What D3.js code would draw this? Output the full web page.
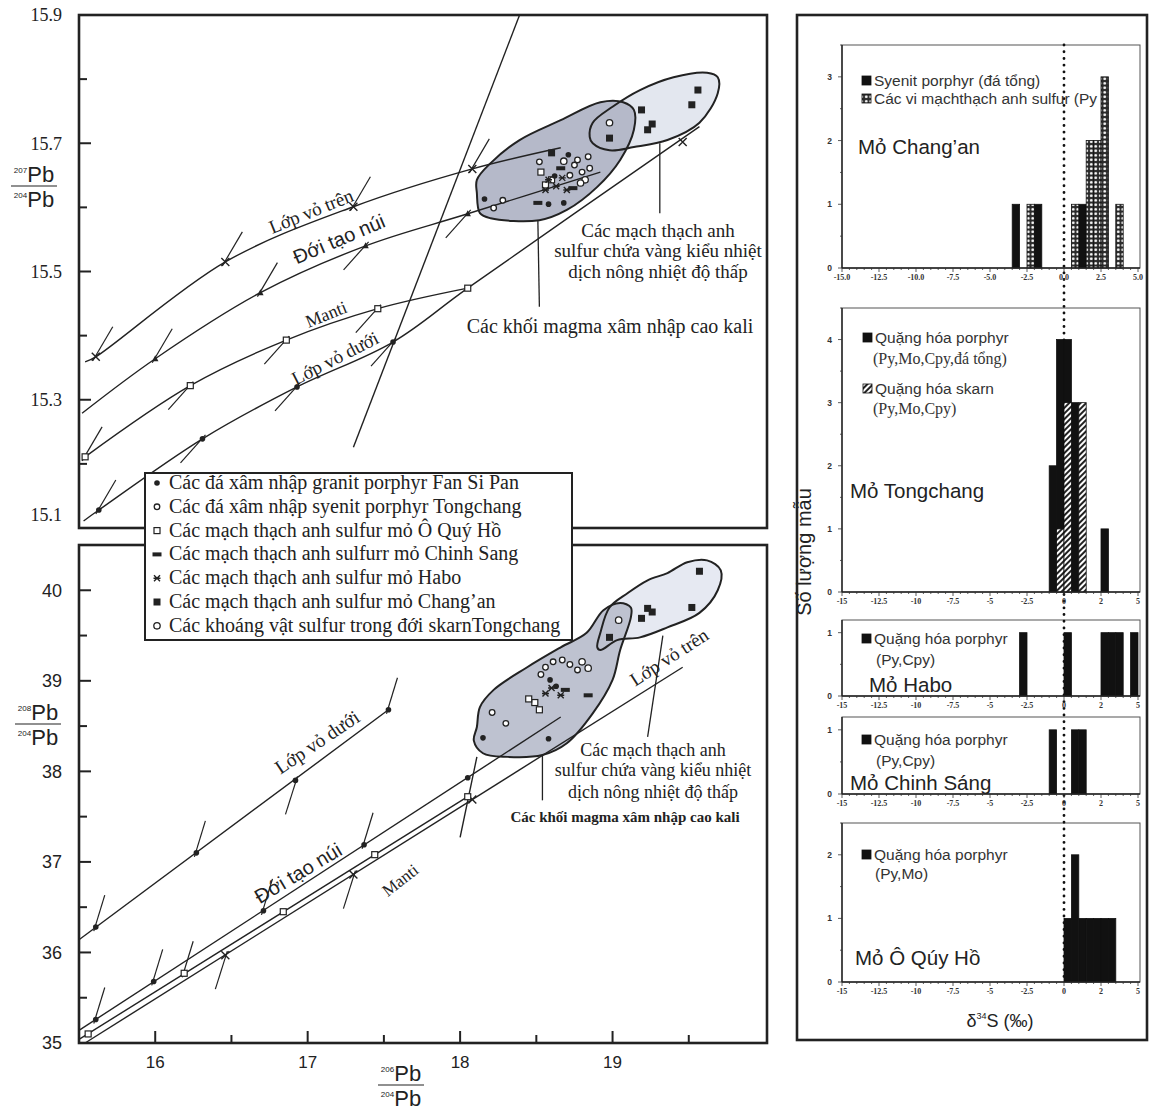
<!DOCTYPE html>
<html>
<head>
<meta charset="utf-8">
<script src="https://cdnjs.cloudflare.com/ajax/libs/d3/7.8.5/d3.min.js"></script>
<style>
body { margin: 0; background: #fff; }
</style>
</head>
<body>
<svg id="fig" width="1152" height="1110"></svg>
<script>
/* Pb isotope diagrams (left) and d34S histograms (right) */

var SERIF = "'Liberation Serif', 'DejaVu Serif', serif";
var SANS = "'Liberation Sans', Arial, sans-serif";
var INK = "#222";

// ---------- Pb diagrams: axes ----------
var x_major = [16, 17, 18, 19];
var x_minor = [16.5, 17.5, 18.5, 19.5];
var top_y_major = [15.1, 15.3, 15.5, 15.7, 15.9];
var top_y_minor = [15.2, 15.4, 15.6, 15.8];
var bot_y_major = [35, 36, 37, 38, 39, 40];
var bot_y_minor = [35.5, 36.5, 37.5, 38.5, 39.5];

// ---------- 207Pb/204Pb vs 206Pb/204Pb ----------
var upper_crust_207 = [[15.54, 15.359], [15.61, 15.367], [16.46, 15.515], [17.30, 15.601], [18.08, 15.660], [18.66, 15.693]];
var orogene_207 = [[15.52, 15.279], [16.0, 15.364], [16.69, 15.467], [17.38, 15.540], [18.05, 15.590], [18.92, 15.655]];
var mantle_207 = [[15.54, 15.211], [16.23, 15.322], [16.86, 15.393], [17.46, 15.442], [18.05, 15.474]];
var lower_crust_207 = [[15.53, 15.111], [15.63, 15.128], [16.31, 15.239], [16.93, 15.320], [17.56, 15.390], [18.05, 15.474], [19.57, 15.726]];
var geochron_207 = [[17.30, 15.226], [18.39, 15.90]];
// nodes: [x, y, tick direction: 1 up-right, -1 down-left, 0 none]
var upper_nodes_207 = [[15.61, 15.367, 1], [16.46, 15.515, 1], [17.30, 15.601, 1], [18.08, 15.660, 1], [19.46, 15.702, 0]];
var orogene_nodes_207 = [[16.0, 15.364, 1], [16.69, 15.467, 1], [17.38, 15.540, -1], [18.05, 15.590, -1]];
var mantle_nodes_207 = [[15.54, 15.211, 1], [16.23, 15.322, -1], [16.86, 15.393, -1], [17.46, 15.442, -1], [18.05, 15.474, 0]];
var lower_nodes_207 = [[15.63, 15.128, 1], [16.31, 15.239, -1], [16.93, 15.320, -1], [17.56, 15.390, -1]];

var dark_field_207 = [[18.11, 15.622], [18.13, 15.591], [18.20, 15.583], [18.52, 15.580], [18.70, 15.596], [18.90, 15.632], [19.05, 15.674], [19.14, 15.721], [19.14, 15.752], [19.07, 15.764], [18.92, 15.764], [18.66, 15.736], [18.39, 15.705], [18.20, 15.669], [18.11, 15.643]];
var light_field_207 = [[18.85, 15.710], [18.87, 15.700], [18.98, 15.689], [19.14, 15.694], [19.36, 15.705], [19.57, 15.732], [19.69, 15.778], [19.69, 15.803], [19.62, 15.810], [19.40, 15.803], [19.18, 15.783], [19.00, 15.757], [18.87, 15.732]];
var leaders_207 = [[[19.31, 15.700], [19.31, 15.591]], [[18.51, 15.580], [18.52, 15.445]]];

var fansipan_207 = [[18.16, 15.613], [18.58, 15.605], [18.68, 15.607], [18.71, 15.682], [18.62, 15.649]];
var tongchang_207 = [[18.22, 15.599], [18.28, 15.611], [18.52, 15.671], [18.84, 15.679], [18.75, 15.666], [18.80, 15.655], [18.72, 15.650], [18.85, 15.661], [18.77, 15.674]];
var oquyho_207 = [[18.56, 15.635], [18.60, 15.643], [18.53, 15.655]];
var chinhsang_207 = [[18.51, 15.607], [18.74, 15.630], [18.66, 15.661]];
var habo_207 = [[18.58, 15.643], [18.63, 15.633], [18.67, 15.646], [18.56, 15.627], [18.70, 15.627]];
var changan_207 = [[18.60, 15.685], [18.98, 15.708], [19.19, 15.752], [19.23, 15.721], [19.26, 15.730], [19.52, 15.760], [19.56, 15.783]];
var skarn_207 = [[18.98, 15.732], [18.82, 15.643], [18.79, 15.638], [18.68, 15.672]];

// ---------- 208Pb/204Pb vs 206Pb/204Pb ----------
var upper_crust_208 = [[15.54, 35.0], [19.46, 39.15]];
var orogene_208 = [[15.5, 35.14], [18.66, 38.60]];
var mantle_208 = [[15.5, 35.04], [18.05, 37.72]];
var lower_crust_208 = [[15.5, 36.14], [17.53, 38.68]];
var cross_line_208 = [[18.0, 37.27], [18.11, 38.16]];
var upper_nodes_208 = [[16.46, 35.97, -1], [17.30, 36.86, -1], [18.08, 37.69, 0]];
var orogene_nodes_208 = [[15.61, 35.26, 1], [15.99, 35.68, 1], [16.71, 36.46, 1], [17.37, 37.19, 1], [18.05, 37.93, 0]];
var mantle_nodes_208 = [[15.56, 35.10, 0], [16.19, 35.77, 1], [16.84, 36.45, 0], [17.44, 37.08, 0], [18.05, 37.72, 0]];
var lower_nodes_208 = [[15.61, 36.28, 1], [16.27, 37.10, 1], [16.92, 37.90, -1], [17.53, 38.68, 1]];

var dark_field_208 = [[18.11, 38.49], [18.09, 38.34], [18.15, 38.20], [18.31, 38.16], [18.54, 38.18], [18.70, 38.31], [18.87, 38.64], [19.00, 39.01], [19.05, 39.34], [19.12, 39.70], [19.12, 39.81], [19.05, 39.86], [18.94, 39.78], [18.83, 39.53], [18.66, 39.37], [18.44, 39.15], [18.22, 38.90], [18.13, 38.71]];
var light_field_208 = [[18.92, 39.53], [18.90, 39.37], [18.92, 39.34], [19.03, 39.45], [19.18, 39.48], [19.36, 39.59], [19.57, 39.75], [19.69, 40.00], [19.71, 40.22], [19.62, 40.33], [19.49, 40.31], [19.36, 40.19], [19.23, 40.11], [19.10, 39.97], [18.98, 39.81]];
var leaders_208 = [[[19.33, 39.50], [19.23, 38.38]], [[18.54, 38.18], [18.54, 37.68]]];

var fansipan_208 = [[18.15, 38.37], [18.58, 38.36], [18.59, 39.01], [18.63, 38.94]];
var tongchang_208 = [[18.21, 38.65], [18.30, 38.53], [18.56, 39.15], [18.61, 39.21], [18.67, 39.23], [18.72, 39.18], [18.77, 39.12], [18.53, 39.07]];
var oquyho_208 = [[18.49, 38.76], [18.52, 38.68], [18.45, 38.80]];
var chinhsang_208 = [[18.84, 38.84], [18.69, 38.90]];
var habo_208 = [[18.56, 38.86], [18.66, 38.84], [18.60, 38.92]];
var changan_208 = [[18.98, 39.48], [19.19, 39.69], [19.23, 39.80], [19.26, 39.76], [19.52, 39.81], [19.57, 40.21]];
var skarn_208 = [[19.04, 39.67], [18.80, 39.21], [18.84, 39.14]];

var legend_labels = [
    "Các đá xâm nhập granit porphyr Fan Si Pan",
    "Các đá xâm nhập syenit porphyr Tongchang",
    "Các mạch thạch anh sulfur mỏ Ô Quý Hồ",
    "Các mạch thạch anh sulfurr mỏ Chinh Sang",
    "Các mạch thạch anh sulfur mỏ Habo",
    "Các mạch thạch anh sulfur mỏ Chang’an",
    "Các khoáng vật sulfur trong đới skarnTongchang"
];
var legend_symbols = ["dot", "ring", "square", "dash", "star", "fsquare", "ring2"];

// ---------- d34S histograms (bin start, count), bins 0.5 wide ----------
var hist_ticks = [-15, -12.5, -10, -7.5, -5, -2.5, 0, 2.5, 5];
var hist_labels_a = ["-15.0", "-12.5", "-10.0", "-7.5", "-5.0", "-2.5", "0.0", "2.5", "5.0"];
var hist_labels_b = ["-15", "-12.5", "-10", "-7.5", "-5", "-2.5", "0", "2", "5"];
var changan_rock = [[-3.5, 1], [-2, 1], [1, 1]];
var changan_vein = [[-2.5, 1], [0.5, 1], [1.5, 2], [2, 2], [2.5, 3], [3.5, 1]];
var tongchang_porphyry = [[-1, 2], [-0.5, 4], [0, 4], [0.5, 3], [2.5, 1]];
var tongchang_skarn = [[-0.5, 1], [0, 3], [1, 3]];
var habo_porphyry = [[-3, 1], [0, 1], [2.5, 1], [3, 1], [3.5, 1], [4.5, 1]];
var chinhsang_porphyry = [[-1, 1], [0.5, 1], [1, 1]];
var oquyho_porphyry = [[0, 1], [0.5, 2], [1, 1], [1.5, 1], [2, 1], [2.5, 1], [3, 1]];

var svg = d3.select("#fig");

var x = d3.scaleLinear().domain([15.5, 20]).range([79, 765]);
var y_top = d3.scaleLinear().domain([15.1, 15.9]).range([528, 15]);
var y_bot = d3.scaleLinear().domain([35, 40.5]).range([1043, 545]);

/**
 * Draw a small point symbol centred on px, py.
 */
function draw_symbol(g, type, px, py) {
    if (type === "dot") {
        g.append("circle").attr("cx", px).attr("cy", py).attr("r", 2.8).attr("fill", INK);
    } else if (type === "ring" || type === "ring2") {
        g.append("circle").attr("cx", px).attr("cy", py).attr("r", type === "ring" ? 2.8 : 3.2)
            .attr("fill", "#fff").attr("stroke", INK).attr("stroke-width", 1.3);
    } else if (type === "square") {
        g.append("rect").attr("x", px - 3).attr("y", py - 3).attr("width", 6).attr("height", 6)
            .attr("fill", "#fff").attr("stroke", INK).attr("stroke-width", 1.2);
    } else if (type === "fsquare") {
        g.append("rect").attr("x", px - 3.5).attr("y", py - 3.5).attr("width", 7).attr("height", 7).attr("fill", INK);
    } else if (type === "dash") {
        g.append("rect").attr("x", px - 4.5).attr("y", py - 2).attr("width", 9).attr("height", 4).attr("fill", INK);
    } else if (type === "star") {
        g.append("path").attr("d", "M" + (px - 3) + "," + (py - 3) + "L" + (px + 3) + "," + (py + 3) +
            "M" + (px - 3) + "," + (py + 3) + "L" + (px + 3) + "," + (py - 3) +
            "M" + (px - 3.5) + "," + py + "L" + (px + 3.5) + "," + py)
            .attr("stroke", INK).attr("stroke-width", 1.4);
    } else if (type === "cross") {
        g.append("path").attr("d", "M" + (px - 4) + "," + (py - 4) + "L" + (px + 4) + "," + (py + 4) +
            "M" + (px - 4) + "," + (py + 4) + "L" + (px + 4) + "," + (py - 4))
            .attr("stroke", INK).attr("stroke-width", 1.4);
    } else if (type === "tri") {
        g.append("path").attr("d", "M" + px + "," + (py - 3.5) + "L" + (px + 3.2) + "," + (py + 2.5) +
            "L" + (px - 3.2) + "," + (py + 2.5) + "Z").attr("fill", INK);
    }
}

/**
 * Rotated text label, centred on cx, cy.
 */
function draw_label(txt, cx, cy, angle, font, size, weight) {
    svg.append("text")
        .attr("transform", "translate(" + cx + "," + cy + ") rotate(" + angle + ")")
        .attr("text-anchor", "middle").attr("dy", "0.35em")
        .attr("font-family", font).attr("font-size", size).attr("font-weight", weight || "normal")
        .attr("fill", INK)
        .text(txt);
}

/**
 * Draw one Pb isotope diagram into its own group.
 */
function draw_pb(y, s) {
    var g = svg.append("g");
    var blob = d3.line().x(function(d) { return x(d[0]); }).y(function(d) { return y(d[1]); })
        .curve(d3.curveCatmullRomClosed.alpha(0.5));
    var smooth = d3.line().x(function(d) { return x(d[0]); }).y(function(d) { return y(d[1]); })
        .curve(d3.curveCatmullRom.alpha(0.5));

    g.append("path").datum(s.light).attr("d", blob).attr("fill", s.light_fill);
    g.append("path").datum(s.dark).attr("d", blob).attr("fill", s.dark_fill);
    [s.light, s.dark].forEach(function(f) {
        g.append("path").datum(f).attr("d", blob).attr("fill", "none")
            .attr("stroke", INK).attr("stroke-width", 2);
    });

    s.lines.forEach(function(l) {
        g.append("path").datum(l).attr("d", smooth).attr("fill", "none")
            .attr("stroke", INK).attr("stroke-width", 1.4);
    });
    s.leaders.forEach(function(l) {
        g.append("path").datum(l).attr("d", smooth).attr("fill", "none")
            .attr("stroke", INK).attr("stroke-width", 1.3);
    });

    s.nodes.forEach(function(n) {
        n.data.forEach(function(d) {
            var px = x(d[0]), py = y(d[1]);
            if (d[2] === 1) {
                g.append("line").attr("x1", px - s.back[0]).attr("y1", py - s.back[1])
                    .attr("x2", px + s.up[0]).attr("y2", py + s.up[1])
                    .attr("stroke", INK).attr("stroke-width", 1.2);
            } else if (d[2] === -1) {
                g.append("line").attr("x1", px + s.back[0]).attr("y1", py + s.back[1])
                    .attr("x2", px - s.down[0]).attr("y2", py + s.down[1])
                    .attr("stroke", INK).attr("stroke-width", 1.2);
            }
            draw_symbol(g, n.type, px, py);
        });
    });

    s.points.forEach(function(p) {
        p.data.forEach(function(d) { draw_symbol(g, p.type, x(d[0]), y(d[1])); });
    });
    return g;
}

// ---------- frames and axes of the Pb diagrams ----------
function draw_frame(y0, y1) {
    svg.append("rect").attr("x", x(15.5)).attr("y", y0).attr("width", 767 - x(15.5)).attr("height", y1 - y0)
        .attr("fill", "#fff").attr("stroke", INK).attr("stroke-width", 2.6);
}
draw_frame(y_top(15.9), y_top(15.1));
draw_frame(y_bot(40.5), y_bot(35));

var top_g = draw_pb(y_top, {
    light: light_field_207, dark: dark_field_207, light_fill: "#e3e7ef", dark_fill: "#b5b9c9",
    lines: [upper_crust_207, orogene_207, mantle_207, lower_crust_207, geochron_207],
    leaders: leaders_207,
    up: [17, -30], down: [22, 24], back: [3, -4],
    nodes: [
        {type: "cross", data: upper_nodes_207},
        {type: "tri", data: orogene_nodes_207},
        {type: "square", data: mantle_nodes_207},
        {type: "dot", data: lower_nodes_207}
    ],
    points: [
        {type: "ring", data: tongchang_207}, {type: "square", data: oquyho_207},
        {type: "dash", data: chinhsang_207}, {type: "star", data: habo_207},
        {type: "dot", data: fansipan_207}, {type: "fsquare", data: changan_207},
        {type: "ring2", data: skarn_207}
    ]
});

var bot_g = draw_pb(y_bot, {
    light: light_field_208, dark: dark_field_208, light_fill: "#e6e9f2", dark_fill: "#bec2d0",
    lines: [upper_crust_208, orogene_208, mantle_208, lower_crust_208, cross_line_208],
    leaders: leaders_208,
    up: [9, -32], down: [10, 34], back: [2, -4],
    nodes: [
        {type: "cross", data: upper_nodes_208},
        {type: "dot", data: orogene_nodes_208},
        {type: "square", data: mantle_nodes_208},
        {type: "dot", data: lower_nodes_208}
    ],
    points: [
        {type: "ring", data: tongchang_208}, {type: "square", data: oquyho_208},
        {type: "dash", data: chinhsang_208}, {type: "star", data: habo_208},
        {type: "dot", data: fansipan_208}, {type: "fsquare", data: changan_208},
        {type: "ring2", data: skarn_208}
    ]
});

// y ticks (inward) and labels
function draw_y_ticks(y, major, minor, font, fmt, special) {
    major.forEach(function(v) {
        svg.append("line").attr("x1", x(15.5)).attr("x2", x(15.5) + 12).attr("y1", y(v)).attr("y2", y(v))
            .attr("stroke", INK).attr("stroke-width", 2);
        svg.append("text").attr("x", 62).attr("y", y(v) + (special(v) ? -13 : 0)).attr("dy", "0.35em")
            .attr("text-anchor", "end").attr("font-family", font).attr("font-size", 18).attr("fill", INK)
            .text(fmt(v));
    });
    minor.forEach(function(v) {
        svg.append("line").attr("x1", x(15.5)).attr("x2", x(15.5) + 8).attr("y1", y(v)).attr("y2", y(v))
            .attr("stroke", INK).attr("stroke-width", 2);
    });
}
draw_y_ticks(y_top, top_y_major, top_y_minor, SERIF, d3.format(".1f"), function(v) { return v === 15.1; });
draw_y_ticks(y_bot, bot_y_major, bot_y_minor, SANS, d3.format("d"), function(v) { return false; });

x_major.forEach(function(v) {
    svg.append("line").attr("x1", x(v)).attr("x2", x(v)).attr("y1", y_bot(35)).attr("y2", y_bot(35) - 12)
        .attr("stroke", INK).attr("stroke-width", 2);
    svg.append("text").attr("x", x(v)).attr("y", 1068).attr("text-anchor", "middle")
        .attr("font-family", SANS).attr("font-size", 17).attr("fill", INK).text(v);
});
x_minor.forEach(function(v) {
    svg.append("line").attr("x1", x(v)).attr("x2", x(v)).attr("y1", y_bot(35)).attr("y2", y_bot(35) - 8)
        .attr("stroke", INK).attr("stroke-width", 2);
});

// ratio labels like 207Pb / 204Pb
function draw_ratio(cx, y_num, num) {
    var g = svg.append("g").attr("font-family", SANS).attr("fill", INK);
    [[num, y_num], ["204", y_num + 25]].forEach(function(r) {
        var t = g.append("text").attr("x", cx).attr("y", r[1]).attr("text-anchor", "middle");
        t.append("tspan").attr("font-size", 8).attr("dy", -9).text(r[0]);
        t.append("tspan").attr("font-size", 22).attr("dy", 9).text("Pb");
    });
    g.append("line").attr("x1", cx - 23).attr("x2", cx + 23).attr("y1", y_num + 4).attr("y2", y_num + 4)
        .attr("stroke", INK).attr("stroke-width", 1.2);
}
draw_ratio(34, 182, "207");
draw_ratio(38, 720, "208");
draw_ratio(401, 1081, "206");

// curve labels
draw_label("Lớp vỏ trên", 311, 211, -22, SERIF, 19);
draw_label("Đới tạo núi", 339, 239, -23, SANS, 20);
draw_label("Manti", 326, 314, -22, SERIF, 18);
draw_label("Lớp vỏ dưới", 335, 358, -27, SERIF, 19);
draw_label("Lớp vỏ dưới", 317, 742, -34, SERIF, 19.5);
draw_label("Đới tạo núi", 298, 873, -31, SANS, 20);
draw_label("Manti", 400, 880, -38, SERIF, 17);
draw_label("Lớp vỏ trên", 669, 657, -33, SERIF, 19);

// field annotations
[["Các mạch thạch anh", 230], ["sulfur chứa vàng kiểu nhiệt", 250], ["dịch nông nhiệt độ thấp", 271]].forEach(function(r) {
    draw_label(r[0], 658, r[1], 0, SERIF, 19);
});
draw_label("Các khối magma xâm nhập cao kali", 610, 326, 0, SERIF, 20);
[["Các mạch thạch anh", 750], ["sulfur chứa vàng kiểu nhiệt", 770], ["dịch nông nhiệt độ thấp", 792]].forEach(function(r) {
    draw_label(r[0], 653, r[1], 0, SERIF, 18);
});
draw_label("Các khối magma xâm nhập cao kali", 625, 817, 0, SERIF, 15, "bold");

// legend
var leg = svg.append("g");
leg.append("rect").attr("x", 145).attr("y", 473).attr("width", 427).attr("height", 167)
    .attr("fill", "#fff").attr("stroke", INK).attr("stroke-width", 2);
legend_labels.forEach(function(lab, i) {
    var yy = 488 + i * 23.8;
    draw_symbol(leg, legend_symbols[i], 157, yy - 5);
    leg.append("text").attr("x", 169).attr("y", yy + 1).attr("font-family", SERIF).attr("font-size", 20)
        .attr("fill", INK).text(lab);
});

// ---------- right panel: histograms ----------
var hx = d3.scaleLinear().domain([-15, 5]).range([842, 1138]);

var defs = svg.append("defs");
var dots = defs.append("pattern").attr("id", "dots").attr("patternUnits", "userSpaceOnUse")
    .attr("width", 4.5).attr("height", 4.5);
dots.append("rect").attr("width", 4.5).attr("height", 4.5).attr("fill", "#2a2a2a");
dots.append("circle").attr("cx", 2.25).attr("cy", 2.25).attr("r", 1.4).attr("fill", "#fff");
var hatch = defs.append("pattern").attr("id", "hatch").attr("patternUnits", "userSpaceOnUse")
    .attr("width", 4).attr("height", 4).attr("patternTransform", "rotate(45)");
hatch.append("rect").attr("width", 4).attr("height", 4).attr("fill", "#fff");
hatch.append("rect").attr("width", 2).attr("height", 4).attr("fill", "#222");

svg.append("rect").attr("x", 797).attr("y", 15).attr("width", 350).attr("height", 1025)
    .attr("fill", "#fff").attr("stroke", INK).attr("stroke-width", 2.6);

var panels = [
    {top: 45, bottom: 268, max: 3.5, ticks: [0, 1, 2, 3], labels: hist_labels_a,
     series: [{data: changan_rock, fill: "#111"}, {data: changan_vein, fill: "url(#dots)"}],
     legend: [["#111", "Syenit porphyr (đá tổng)", SANS, 862, 86], ["url(#dots)", "Các vi mạchthạch anh sulfur (Py", SANS, 862, 104]],
     title: ["Mỏ Chang’an", 858, 154]},
    {top: 308, bottom: 592, max: 4.5, ticks: [0, 1, 2, 3, 4], labels: hist_labels_b,
     series: [{data: tongchang_porphyry, fill: "#111"}, {data: tongchang_skarn, fill: "url(#hatch)"}],
     legend: [["#111", "Quặng hóa porphyr", SANS, 863, 343], [null, "(Py,Mo,Cpy,đá tổng)", SERIF, 873, 364],
              ["url(#hatch)", "Quặng hóa skarn", SANS, 863, 394], [null, "(Py,Mo,Cpy)", SERIF, 873, 414]],
     title: ["Mỏ Tongchang", 850, 498]},
    {top: 620, bottom: 696, max: 1.2, ticks: [0, 1], labels: hist_labels_b,
     series: [{data: habo_porphyry, fill: "#111"}],
     legend: [["#111", "Quặng hóa porphyr", SANS, 862, 644], [null, "(Py,Cpy)", SANS, 876, 665]],
     title: ["Mỏ Habo", 869, 692]},
    {top: 717, bottom: 794, max: 1.2, ticks: [0, 1], labels: hist_labels_b,
     series: [{data: chinhsang_porphyry, fill: "#111"}],
     legend: [["#111", "Quặng hóa porphyr", SANS, 862, 745], [null, "(Py,Cpy)", SANS, 876, 766]],
     title: ["Mỏ Chinh Sáng", 850, 790]},
    {top: 823, bottom: 982, max: 2.5, ticks: [0, 1, 2], labels: hist_labels_b,
     series: [{data: oquyho_porphyry, fill: "#111"}],
     legend: [["#111", "Quặng hóa porphyr", SANS, 862, 860], [null, "(Py,Mo)", SANS, 875, 879]],
     title: ["Mỏ Ô Qúy Hồ", 855, 965]}
];

// frames first, then the dotted zero line, then legends, then bars over them
panels.forEach(function(p) {
    svg.append("rect").attr("x", 842).attr("y", p.top).attr("width", 298).attr("height", p.bottom - p.top)
        .attr("fill", "#fff").attr("stroke", "#555").attr("stroke-width", 1);
});
svg.append("line").attr("x1", hx(0)).attr("x2", hx(0)).attr("y1", 45).attr("y2", 982)
    .attr("stroke", "#111").attr("stroke-width", 2.8).attr("stroke-linecap", "round")
    .attr("stroke-dasharray", "0.1,6.6");

panels.forEach(function(p) {
    var hy = d3.scaleLinear().domain([0, p.max]).range([p.bottom, p.top]);
    var g = svg.append("g");

    // legend entries
    p.legend.forEach(function(l) {
        if (l[0]) {
            g.append("rect").attr("x", l[3]).attr("y", l[4] - 10).attr("width", 9).attr("height", 9)
                .attr("fill", l[0]).attr("stroke", "#111").attr("stroke-width", 0.8);
        }
        g.append("text").attr("x", l[0] ? l[3] + 12 : l[3]).attr("y", l[4])
            .attr("font-family", l[2]).attr("font-size", l[2] === SERIF ? 16 : 15.5).attr("fill", "#333").text(l[1]);
    });
    g.append("text").attr("x", p.title[1]).attr("y", p.title[2])
        .attr("font-family", SANS).attr("font-size", 20.5).attr("fill", "#222").text(p.title[0]);

    p.series.forEach(function(s) {
        g.selectAll(null).data(s.data).enter().append("rect")
            .attr("x", function(d) { return hx(d[0]); })
            .attr("width", function(d) { return hx(d[0] + 0.5) - hx(d[0]); })
            .attr("y", function(d) { return hy(d[1]); })
            .attr("height", function(d) { return hy(0) - hy(d[1]); })
            .attr("fill", s.fill).attr("stroke", "#111").attr("stroke-width", 0.8);
    });

    // axes
    g.append("line").attr("x1", 842).attr("x2", 1140).attr("y1", p.bottom).attr("y2", p.bottom)
        .attr("stroke", "#222").attr("stroke-width", 1.6);
    g.append("line").attr("x1", 842).attr("x2", 842).attr("y1", p.top).attr("y2", p.bottom)
        .attr("stroke", "#222").attr("stroke-width", 1.4);
    d3.range(-15, 5.01, 0.5).forEach(function(v) {
        g.append("line").attr("x1", hx(v)).attr("x2", hx(v)).attr("y1", p.bottom)
            .attr("y2", p.bottom + (v % 2.5 === 0 ? 4 : 2)).attr("stroke", "#333").attr("stroke-width", 0.8);
    });
    hist_ticks.forEach(function(v, i) {
        g.append("text").attr("x", hx(v)).attr("y", p.bottom + 12).attr("text-anchor", "middle")
            .attr("font-family", SERIF).attr("font-size", 8).attr("font-weight", "bold").attr("fill", "#333")
            .text(p.labels[i]);
    });
    d3.range(0, p.max + 0.01, 0.5).forEach(function(v) {
        g.append("line").attr("x1", 842).attr("x2", 842 - (v % 1 === 0 ? 4 : 2)).attr("y1", hy(v)).attr("y2", hy(v))
            .attr("stroke", "#333").attr("stroke-width", 0.8);
    });
    p.ticks.forEach(function(v) {
        g.append("text").attr("x", 832).attr("y", hy(v) + 3).attr("text-anchor", "end")
            .attr("font-family", SANS).attr("font-size", 8.5).attr("font-weight", "bold").attr("fill", "#333")
            .text(v);
    });
});

// axis titles of the histograms
svg.append("text").attr("transform", "translate(811,552) rotate(-90)").attr("text-anchor", "middle")
    .attr("font-family", SANS).attr("font-size", 20).attr("fill", "#222").text("Số lượng mẫu");
var dt = svg.append("text").attr("x", 1000).attr("y", 1027).attr("text-anchor", "middle")
    .attr("font-family", SANS).attr("font-size", 18).attr("fill", "#222");
dt.append("tspan").text("δ");
dt.append("tspan").attr("font-size", 9).attr("dy", -8).text("34");
dt.append("tspan").attr("dy", 8).text("S (‰)");
</script>
</body>
</html>
